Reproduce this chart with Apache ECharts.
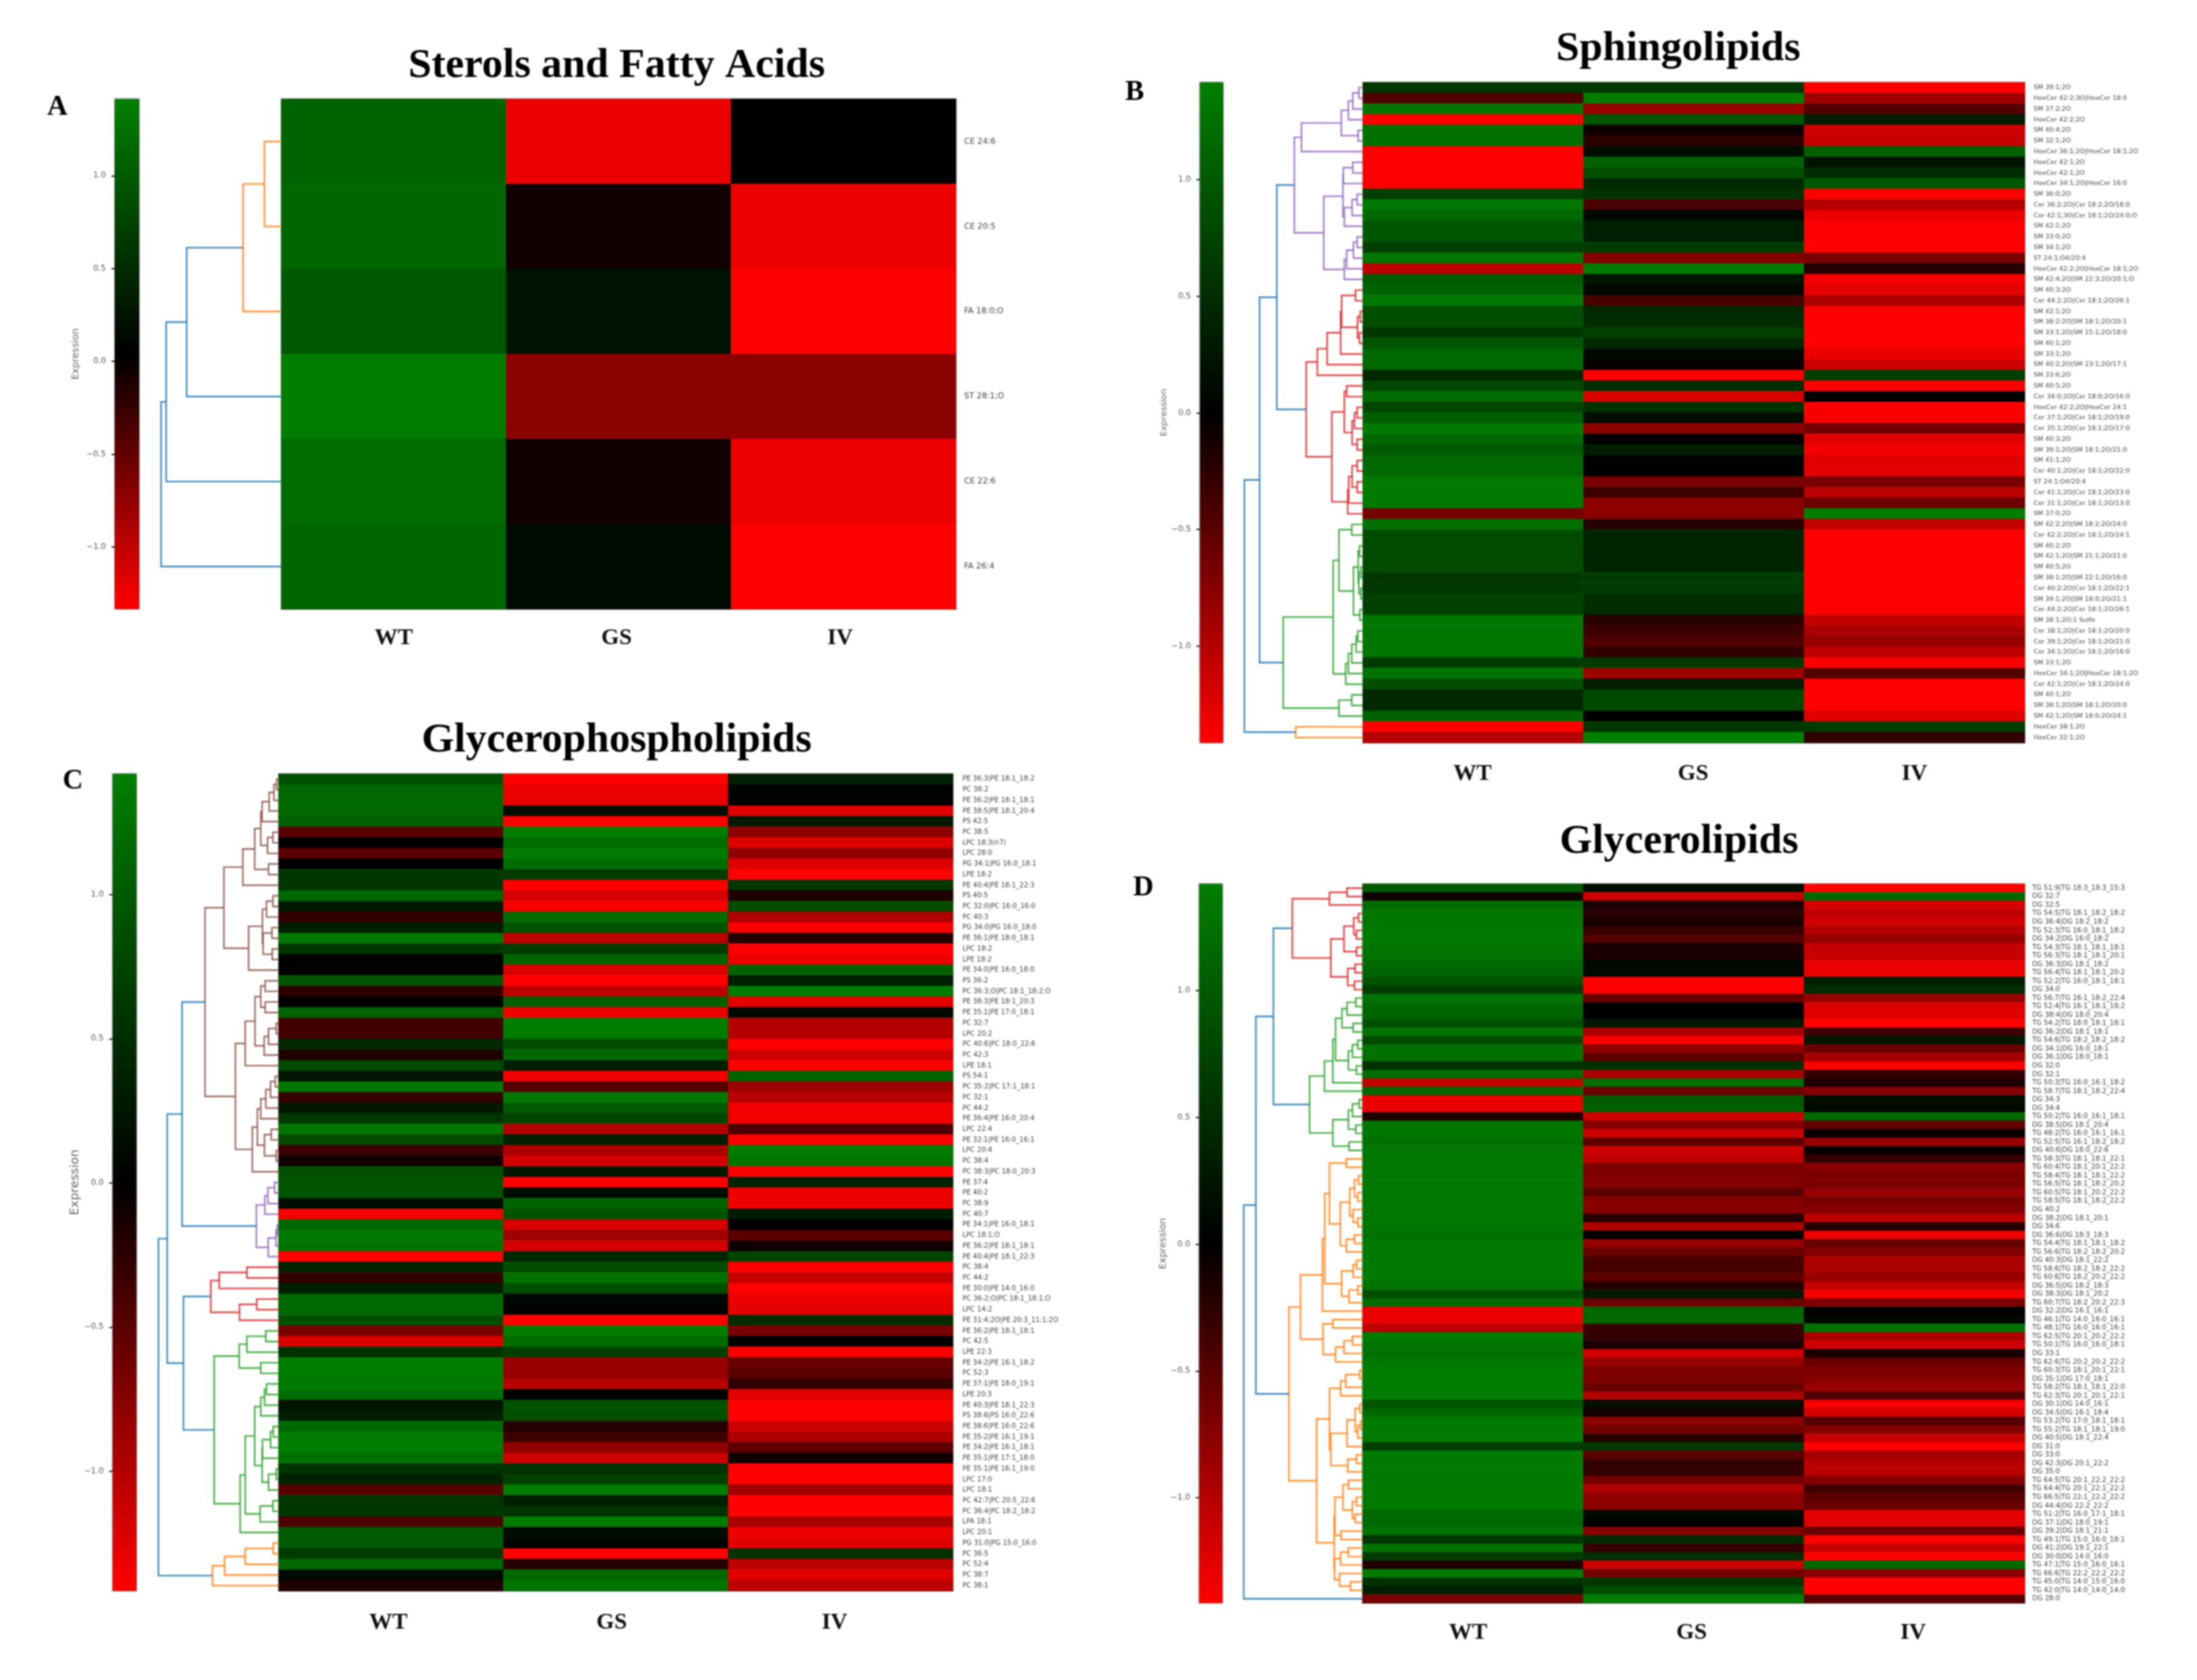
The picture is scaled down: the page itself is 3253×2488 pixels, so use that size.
<!DOCTYPE html>
<html><head><meta charset="utf-8">
<style>html,body{margin:0;padding:0;background:#fff}#c{width:3253px;height:2488px;filter:blur(0.8px)}</style>
<script src="https://cdn.jsdelivr.net/npm/echarts@6/dist/echarts.min.js"></script>
</head><body><div id="c"></div>
<script>
const samples=['WT','GS','IV'];
const barTicks=[-1,-0.5,0,0.5,1];
const titles=['Sterols and Fatty Acids','Sphingolipids','Glycerophospholipids','Glycerolipids'];
const panelLetters=['A','B','C','D'];
const scaleA=[-1.335,1.414], scaleB=[-1.414,1.417], scaleC=[-1.415,1.419], scaleD=[-1.415,1.42];

/* ---------- Panel A ---------- */
const labelsA=['CE 24:6','CE 20:5','FA 18:0;O','ST 28:1;O','CE 22:6','FA 26:4'];
const wtA=[1.1,1.15,1.0,1.38,1.2,1.15];
const gsA=[-1.23,-.06,.24,-.71,-.06,.15];
const ivA=[.04,-1.23,-1.335,-.71,-1.23,-1.335];
const treeA=[17.8,[17.05,[14,[5.65,[2.5,0,0],0,'o'],0],0],0];

/* ---------- Panel B ---------- */
const labelsB=['SM 39:1;2O','HexCer 42:2;3O|HexCer 18:0','SM 37:2;2O','HexCer 42:2;2O','SM 40:4;2O','SM 32:1;2O','HexCer 36:1;2O|HexCer 18:1;2O','HexCer 42:1;2O','HexCer 42:1;2O','HexCer 34:1;2O|HexCer 16:0','SM 36:0;2O','Cer 36:2;2O|Cer 18:2;2O/18:0','Cer 42:1;3O|Cer 18:1;2O/24:0;O','SM 42:1;2O','SM 33:0;2O','SM 34:1;2O','ST 24:1;O4/20:4','HexCer 42:2;2O|HexCer 18:1;2O','SM 42:4;2O|SM 22:3;2O/20:1;O','SM 40:3;2O','Cer 44:2;2O|Cer 18:1;2O/26:1','SM 42:1;2O','SM 38:2;2O|SM 18:1;2O/20:1','SM 33:1;2O|SM 15:1;2O/18:0','SM 40:1;2O','SM 33:1;2O','SM 40:2;2O|SM 23:1;2O/17:1','SM 33:6;2O','SM 40:5;2O','Cer 34:0;2O|Cer 18:0;2O/16:0','HexCer 42:2;2O|HexCer 24:1','Cer 37:1;2O|Cer 18:1;2O/19:0','Cer 35:1;2O|Cer 18:1;2O/17:0','SM 40:3;2O','SM 39:1;2O|SM 18:1;2O/21:0','SM 41:1;2O','Cer 40:1;2O|Cer 18:1;2O/22:0','ST 24:1;O4/20:4','Cer 41:1;2O|Cer 18:1;2O/23:0','Cer 31:1;2O|Cer 18:1;2O/13:0','SM 37:0;2O','SM 42:2;2O|SM 18:2;2O/24:0','Cer 42:2;2O|Cer 18:1;2O/24:1','SM 40:2;2O','SM 42:1;2O|SM 21:1;2O/21:0','SM 40:5;2O','SM 38:1;2O|SM 22:1;2O/16:0','Cer 40:2;2O|Cer 18:1;2O/22:1','SM 39:1;2O|SM 18:0;2O/21:1','Cer 44:2;2O|Cer 18:1;2O/26:1','SM 38:1;2O;1 Sulfo','Cer 38:1;2O|Cer 18:1;2O/20:0','Cer 39:1;2O|Cer 18:1;2O/21:0','Cer 34:1;2O|Cer 18:1;2O/16:0','SM 33:1;2O','HexCer 34:1;2O|HexCer 18:1;2O','Cer 42:1;2O|Cer 18:1;2O/24:0','SM 40:1;2O','SM 38:1;2O|SM 18:1;2O/20:0','SM 42:1;2O|SM 18:0;2O/24:1','HexCer 38:1;2O','HexCer 32:1;2O'];
const wtB=[.6,-.45,1.3,-1.4,1.25,1.25,-1.4,-1.4,-1.4,-1.4,.7,1.32,1.15,.95,.95,.7,1.3,-1.05,1,1.1,1.32,.88,.88,.6,.95,1.15,1.15,.45,.8,1.2,.78,1.05,1.35,1.15,1,1.15,1.15,1.35,1.35,1.35,-.65,1.25,.83,.83,.83,.83,.6,.6,.72,.72,1.3,1.3,1.3,1.3,.65,1.28,.88,.45,.45,1.1,-1.4,-1];
const gsB=[.6,1.38,-.85,.95,-.08,-.25,.16,1.1,.88,.45,.55,-.4,.1,.33,.33,.65,-.72,1.38,.22,.08,-.4,.45,.5,.7,.45,.1,-.05,-1.4,.5,-1.2,.55,.16,-.78,0,.33,.02,.02,-.68,-.33,-.78,-.78,-.2,.4,.4,.4,.4,.65,.65,.5,.5,-.22,-.33,-.44,-.28,.66,-.88,.33,.82,.82,.02,.6,1.4];
const ivB=[-1.4,-.88,-.47,.33,-1.15,-1.1,1.05,.22,.5,.95,-1.4,-1,-1.3,-1.4,-1.4,-1.4,-.66,-.2,-1.35,-1.27,-.95,-1.4,-1.4,-1.4,-1.4,-1.3,-1.13,.7,-1.4,0,-1.4,-1.38,-.63,-1.24,-1.35,-1.24,-1.27,-.66,-1.02,-.6,1.4,-1.08,-1.4,-1.4,-1.4,-1.4,-1.4,-1.4,-1.4,-1.4,-1.08,-.94,-.83,-1.05,-1.4,-.47,-1.4,-1.4,-1.4,-1.24,.65,-.28];
const treeB=[17.55,[15.3,[12.75,
  [10.15,[9.1,[3.2,[2.15,[1.5,[.6,0,0],0],0],[.7,0,0]],0],[5.8,[2.95,[2.9,[1.5,0,0],0],[2.75,[1.6,[.85,0,0],0],0]],[2.75,[2.4,[1.4,[.85,0,0],0],0],0]],'p'],
  [8.4,[6.75,[5.3,[3.3,[3.15,[1.1,0,0],[.8,[.4,0,0],[.5,0,0]]],0],0],0],[4.6,[2.75,[2.4,0,0],[1.6,[1.25,[.85,0,0],0],[.85,0,0]]],[2.25,[2.1,[1.6,[.85,0,0],[.85,0,0]],0],0]],'r']],
  [11.8,[4.4,[3.55,[1.65,0,0],[1.4,[.7,[.5,0,0],[.6,[.3,0,0],[.3,0,0]]],[.45,0,0]]],[2.55,[2.15,[1.65,[1,[.75,0,0],0],0],0],0]],[3.55,[1.65,0,0],0],'g']],
  [9.95,0,0,'o']];

/* ---------- Panel C ---------- */
const labelsC=['PE 36:3|PE 18:1_18:2','PC 38:2','PE 36:2|PE 18:1_18:1','PE 38:5|PE 18:1_20:4','PS 42:5','PC 38:5','LPC 18:3(n7)','LPC 28:0','PG 34:1|PG 16:0_18:1','LPE 18:2','PE 40:4|PE 18:1_22:3','PS 40:5','PC 32:0|PC 16:0_16:0','PC 40:3','PG 34:0|PG 16:0_18:0','PE 36:1|PE 18:0_18:1','LPC 18:2','LPE 18:2','PE 34:0|PE 16:0_18:0','PS 36:2','PC 36:3;O|PC 18:1_18:2;O','PE 38:3|PE 18:1_20:3','PE 35:1|PE 17:0_18:1','PC 32:7','LPC 20:2','PC 40:6|PC 18:0_22:6','PC 42:3','LPE 18:1','PS 54:1','PC 35:2|PC 17:1_18:1','PC 32:1','PC 44:2','PE 36:4|PE 16:0_20:4','LPC 22:4','PE 32:1|PE 16:0_16:1','LPC 20:4','PC 38:4','PC 38:3|PC 18:0_20:3','PE 37:4','PE 40:2','PC 38:9','PC 40:7','PE 34:1|PE 16:0_18:1','LPC 18:1;O','PE 36:2|PE 18:1_18:1','PE 40:4|PE 18:1_22:3','PC 38:4','PC 44:2','PE 30:0|PE 14:0_16:0','PC 36:2;O|PC 18:1_18:1;O','LPC 14:2','PE 31:4;2O|PE 20:3_11:1;2O','PE 36:2|PE 18:1_18:1','PC 42:5','LPE 22:3','PE 34:2|PE 16:1_18:2','PC 52:3','PE 37:1|PE 18:0_19:1','LPE 20:3','PE 40:3|PE 18:1_22:3','PS 38:6|PS 16:0_22:6','PE 38:6|PE 16:0_22:6','PE 35:2|PE 16:1_19:1','PE 34:2|PE 16:1_18:1','PE 35:1|PE 17:1_18:0','PE 35:1|PE 16:1_19:0','LPC 17:0','LPC 18:1','PC 42:7|PC 20:5_22:6','PC 36:4|PC 18:2_18:2','LPA 18:1','LPC 20:1','PG 31:0|PG 15:0_16:0','PC 36:5','PC 52:4','PC 38:7','PC 38:1'];
const wtC=[.88,1.15,1.15,1.15,1.05,-.5,0,-.5,0,.6,.6,1.15,.28,-.28,.33,1.32,.6,.04,-.02,.95,-.25,0,1.1,-.36,-.36,.45,-.16,.83,.22,1.32,-.3,.28,.6,1.32,.83,-.33,-.08,.88,.93,.93,.15,-1.35,1.15,1.35,1.28,-1.41,.42,-.28,.35,1.15,1.15,.88,-.66,-1.2,.55,1.38,1.38,1.35,1.22,.22,.33,1.15,1.38,1.38,1.25,.55,.38,-.47,.6,.6,-.42,1,1,.66,1.15,.1,-.17];
const gsC=[-1.41,-1.3,-1.3,.16,-1.41,1.38,1.2,1.38,1.2,.66,-1.41,-1.18,-1.38,1.2,.93,-1.05,.66,1.1,-1.2,-1.41,-1.05,1.05,-1.32,1.38,1.38,.83,1.15,.33,-1.35,-.47,1.32,1,.77,-1,.33,-.97,-1.18,.28,-1.41,.16,1.1,.93,-1.2,-.88,-1.18,.44,.83,1.26,.88,.08,.03,-1.41,1.38,1.2,.7,-.83,-.83,-1.02,0,.93,.88,-.2,-.33,-.8,-1.13,.55,.72,1.38,.33,.55,1.38,.13,.05,-1.41,-.2,1.15,1.3];
const ivC=[.33,.02,0,-1.25,.28,-.78,-1.22,-.8,-1.22,-1.41,.6,-.17,.83,-.97,-1.38,-.2,-1.41,-1.32,1.1,.33,1.38,-1.27,.1,-1,-1,-1.41,-1.15,-1.41,1.1,-.88,-1.02,-1.35,-1.35,-.42,-1.41,1.38,1.3,-1.41,.38,-1.32,-1.32,.3,0,-.5,-.08,.77,-1.41,-1.08,-1.41,-1.32,-1.27,.5,-.66,0,-1.38,-.58,-.5,-.28,-1.24,-1.41,-1.41,-1.13,-.97,-.52,-.08,-1.41,-1.41,-.88,-1.41,-1.41,-.94,-1.32,-1.24,.55,-1.05,-1.24,-1.05];
const treeC=[17.8,[16.5,[14.3,
  [10.9,[8.1,[5.3,[3.55,[2.65,[2.45,[1.4,[.7,[.3,0,0],0],0],0],[1.65,[.85,0,0],0]],[1.5,0,0]],0],[4.45,[2.4,[1.8,[.85,0,0],0],[2.3,[1,0,0],[.95,0,0]]],0]],
         [6.4,[4.95,[3.5,[2.65,[2,0,0],[2,0,0]],[2.15,[1.5,[.35,0,0],0],0]],0],[3.9,[3.15,[2.65,[1.9,[1.2,[.5,0,0],0],0],0],[2.1,[1.1,0,0],[.35,0,0]]],0]],'n'],
  [3.3,[2.05,[1.6,[.6,0,0],0],0],[1.55,[.4,[.2,0,0],0],0],'p']],
  [14.1,[10.05,[8.8,[4.7,0,0],0],[5.8,[3.25,0,0],0],'r'],
        [9.55,[5.85,[4.7,[1.9,0,0],0],[2.65,0,0]],[5.7,[4.95,[3.55,[2.65,[2.1,[1.8,0,0],0],0],[2.45,[2.4,[1.2,[.8,0,0],0],0],[1.5,[.35,0,0],0]]],[2.75,[.85,0,0],0]],0],'g']]],
  [9.8,[8,[4.95,[.8,0,0],0],0],0,'o']];

/* ---------- Panel D ---------- */
const labelsD=['TG 51:9|TG 18:3_18:3_15:3','DG 32:7','DG 32:5','TG 54:5|TG 18:1_18:2_18:2','DG 36:4|DG 18:2_18:2','TG 52:3|TG 16:0_18:1_18:2','DG 34:2|DG 16:0_18:2','TG 54:3|TG 18:1_18:1_18:1','TG 56:3|TG 18:1_18:1_20:1','DG 36:3|DG 18:1_18:2','TG 56:4|TG 18:1_18:1_20:2','TG 52:2|TG 16:0_18:1_18:1','DG 34:0','TG 56:7|TG 16:1_18:2_22:4','TG 52:4|TG 16:1_18:1_18:2','DG 38:4|DG 18:0_20:4','TG 54:2|TG 18:0_18:1_18:1','DG 36:2|DG 18:1_18:1','TG 54:6|TG 18:2_18:2_18:2','DG 34:1|DG 16:0_18:1','DG 36:1|DG 18:0_18:1','DG 32:0','DG 32:1','TG 50:3|TG 16:0_16:1_18:2','TG 58:7|TG 18:1_18:2_22:4','DG 34:3','DG 34:4','TG 50:2|TG 16:0_16:1_18:1','DG 38:5|DG 18:1_20:4','TG 48:2|TG 16:0_16:1_16:1','TG 52:5|TG 16:1_18:2_18:2','DG 40:6|DG 18:0_22:6','TG 58:3|TG 18:1_18:1_22:1','TG 60:4|TG 18:1_20:1_22:2','TG 58:4|TG 18:1_18:1_22:2','TG 56:5|TG 18:1_18:2_20:2','TG 60:5|TG 18:1_20:2_22:2','TG 58:5|TG 18:1_18:2_22:2','DG 40:2','DG 38:2|DG 18:1_20:1','DG 34:6','DG 36:6|DG 18:3_18:3','TG 54:4|TG 18:1_18:1_18:2','TG 56:6|TG 18:2_18:2_20:2','DG 40:3|DG 18:1_22:2','TG 58:6|TG 18:2_18:2_22:2','TG 60:6|TG 18:2_20:2_22:2','DG 36:5|DG 18:2_18:3','DG 38:3|DG 18:1_20:2','TG 60:7|TG 18:2_20:2_22:3','DG 32:2|DG 16:1_16:1','TG 46:1|TG 14:0_16:0_16:1','TG 48:1|TG 16:0_16:0_16:1','TG 62:5|TG 20:1_20:2_22:2','TG 50:1|TG 16:0_16:0_18:1','DG 33:1','TG 62:6|TG 20:2_20:2_22:2','TG 60:3|TG 18:1_20:1_22:1','DG 35:1|DG 17:0_18:1','TG 58:2|TG 18:1_18:1_22:0','TG 62:3|TG 20:1_20:1_22:1','DG 30:1|DG 14:0_16:1','DG 34:5|DG 16:1_18:4','TG 53:2|TG 17:0_18:1_18:1','TG 55:2|TG 18:1_18:1_19:0','DG 40:5|DG 18:1_22:4','DG 31:0','DG 33:0','DG 42:3|DG 20:1_22:2','DG 35:0','TG 64:5|TG 20:1_22:2_22:2','TG 64:4|TG 20:1_22:1_22:2','TG 66:5|TG 22:1_22:2_22:2','DG 44:4|DG 22:2_22:2','TG 51:2|TG 16:0_17:1_18:1','DG 37:1|DG 18:0_19:1','DG 39:2|DG 18:1_21:1','TG 49:1|TG 15:0_16:0_18:1','DG 41:2|DG 19:1_22:1','DG 30:0|DG 14:0_16:0','TG 47:1|TG 15:0_16:0_16:1','TG 66:6|TG 22:2_22:2_22:2','TG 45:0|TG 14:0_15:0_16:0','TG 42:0|TG 14:0_14:0_14:0','DG 28:0'];
const wtD=[1,-.08,1.2,1.3,1.3,1.35,1.35,1.3,1.28,1.15,1.12,.93,.68,1.27,1.15,1.12,.88,1.27,.83,1.27,1.25,.55,1.2,-1.08,1.15,-1.3,-1.3,-.17,1.3,1.3,1.25,1.32,1.32,1.32,1.32,1.32,1.32,1.32,1.32,1.32,1.3,1.25,1.35,1.35,1.35,1.35,1.35,1.28,.88,1.2,-1.3,-1.3,-1.05,1.38,1.3,1.25,1.33,1.38,1.38,1.38,1.38,.93,1.15,1.35,1.35,1.35,.68,1.35,1.35,1.35,1.35,1.36,1.36,1.36,1.15,1.15,1.28,.6,1.28,.66,-.17,1.38,.55,.33,-.66];
const gsD=[.13,-1.13,-.14,-.22,-.14,-.3,-.47,-.14,-.14,.1,.09,-1.41,-1.41,-.6,0,0,.28,-.97,-1.38,-.78,-.52,.55,-.94,1.23,-.6,1,1.05,-1.13,-.75,-1.13,-.52,-1.13,-1.05,-.68,-.72,-.72,-.5,-.75,-.75,-.2,-.97,0,-.83,-.6,-.39,-.39,-.52,-.2,.28,-.6,1.15,1.15,-.3,-.28,-.14,-1.16,-.83,-.69,-.69,-.58,-.97,.17,-.11,-.77,-.63,-.22,.6,-.5,-.28,-.28,-.63,-.97,-.8,-.77,.11,0,-.75,.5,-.3,.5,-1.13,-.63,.6,.88,1.38];
const ivD=[-1.41,1.15,-1.18,-1.05,-1.15,-1,-.83,-1.1,-1.1,-1.3,-1.3,.33,.5,-.83,-1.22,-1.24,-1.41,-.33,.28,-.6,-.91,-1.41,-.28,-.17,-.75,.17,.09,1.15,-.55,-.06,-.85,-.05,-.28,-.75,-.69,-.69,-.83,-.66,-.75,-1.05,-.2,-1.3,-.58,-.72,-.94,-.94,-.83,-1.08,-1.35,-.69,0,.09,1.27,-.94,-1.13,-.14,-.58,-.69,-.75,-.85,-.44,-1.38,-1.18,-.47,-.72,-1.1,-1.41,-.91,-1.02,-1.02,-.75,-.36,-.5,-.58,-1.27,-1.24,-.58,-1.41,-1.1,-1.41,1.15,-.77,-1.41,-1.41,-.5];
const treeD=[17.6,[15.8,[13.2,
  [10.4,[4.9,[2.3,0,0],0],[4.7,[2.75,[1.3,[.6,0,0],[.9,0,0]],[.9,0,0]],[2.2,[1.1,0,0],[1.2,0,0]]],'r'],
  [7.85,[5.65,[4.4,[4,[3.05,[2.3,[1,0,0],0],[1.4,0,0]],[2.1,[1.5,[.7,0,0],0],[.9,0,0]]],0],0],[4.4,[2.1,[1.5,[.5,0,0],0],[1,0,0]],[2,0,0]],'g']],
  [10.9,[9.2,[5.95,[5.6,[4.9,[2.4,0,0],[3.3,[1.9,[1.2,[.6,0,0],[.7,0,0]],[1.4,0,[.7,0,0]]],[2.4,[1.2,0,0],0]]],[3.1,[1.4,[.9,0,0],0],[2,[.7,0,0],0]]],0],
             [5.85,[4.4,0,0],[4,[2.75,[1.5,0,0],0],0]]],
        [6.8,[4.9,[3.25,[2.5,[.4,0,0],0],0],[4.7,[2.3,[1.1,[.4,0,0],[.7,[.3,0,0],0]],0],[2.2,[.9,0,0],0]]],
             [4.2,[4.1,[2.9,[2.1,0,0],[1.5,[.9,0,0],[1.1,0,0]]],[3.2,0,0]],[4.15,[3.25,[2.1,0,0],0],[3.4,0,[1.8,0,0]]]]],'o']],0];

const palette={t:'#1f77b4',o:'#ff7f0e',g:'#2ca02c',r:'#d62728',p:'#9467bd',n:'#8c564b'};
const colorKeys=Object.keys(palette);
const fontSerif='"Liberation Serif","Times New Roman",serif';

function linkage(tree){
  const rows=[];let next=0;
  (function walk(n,col){
    if(n===0){return{h:0,y:(next++)+.5};}
    const c=n[3]||col,l=walk(n[1],c),r=walk(n[2],c);
    rows.push([l.h,l.y,n[0],r.y,r.h,colorKeys.indexOf(c)]);
    return{h:n[0],y:(l.y+r.y)/2};
  })(tree,'t');
  return{rows,leaves:next};
}

const layout=[
 {heat:[416.5,146.5,999,755.5],bar:[170,146.5,36,755.5],scale:scaleA,labels:labelsA,cols:[wtA,gsA,ivA],tree:treeA,fs:12,lm:12,xm:26,tx:913,ty:98,lx:85,ly:159,nameGap:51,nameSize:14,shift:[0,3,5]},
 {heat:[2018,122,980,978],bar:[1776.5,122,34.5,978],scale:scaleB,labels:labelsB,cols:[wtB,gsB,ivB],tree:treeB,fs:9.5,lm:13,xm:29,tx:2485,ty:73,lx:1680,ly:137,nameGap:41,nameSize:13,shift:[1,1,0]},
 {heat:[412.6,1146,998.4,1210],bar:[166.7,1146,35.3,1210],scale:scaleC,labels:labelsC,cols:[wtC,gsC,ivC],tree:treeC,fs:10,lm:14,xm:30,tx:913,ty:1097,lx:108,ly:1157,nameGap:46,nameSize:18,shift:[4,6,9]},
 {heat:[2017.5,1309,980.5,1065],bar:[1775.4,1309,34.6,1065],scale:scaleD,labels:labelsD,cols:[wtD,gsD,ivD],tree:treeD,fs:10,lm:11,xm:27,tx:2486,ty:1247,lx:1693,ly:1315,nameGap:41,nameSize:14,shift:[7,3,2]}
];

const grid=[],xAxis=[],yAxis=[],series=[],visualMap=[],title=[];
const xLabelStyle={fontFamily:fontSerif,fontWeight:'bold',fontSize:34,color:'#111'};
layout.forEach((p,i)=>{
  const [hl,ht,hw,hh]=p.heat, n=p.labels.length, link=linkage(p.tree);
  if(link.leaves!==n||p.cols.some(c=>c.length!==n))console.error('size mismatch panel',i,link.leaves,n,p.cols.map(c=>c.length));
  // heat grid
  const g0=grid.length;
  grid.push({left:hl,top:ht,width:hw,height:hh,show:true,borderColor:'#9a9a9a',borderWidth:2,backgroundColor:'transparent'});
  const rich={};p.shift.forEach((s,k)=>{rich['s'+k]=Object.assign({padding:[0,2*s,0,0]},xLabelStyle);});
  xAxis.push({gridIndex:g0,type:'category',data:samples,axisLine:{show:true,lineStyle:{color:'#555',width:2}},
    axisTick:{alignWithLabel:true,length:10,lineStyle:{color:'#777',width:2}},
    axisLabel:Object.assign({margin:p.xm,rich,formatter:(v,k)=>'{s'+k+'|'+v+'}'},xLabelStyle),splitLine:{show:false}});
  yAxis.push({gridIndex:g0,type:'category',data:p.labels,inverse:true,position:'right',axisLine:{show:true,lineStyle:{color:'#999',width:1}},
    axisTick:{alignWithLabel:true,length:5,lineStyle:{color:'#222',width:2}},
    axisLabel:{interval:0,margin:p.lm,fontSize:p.fs,fontFamily:'"DejaVu Sans",sans-serif',color:'#444',hideOverlap:false},splitLine:{show:false}});
  const cells=[];p.cols.forEach((c,x)=>c.forEach((v,y)=>cells.push([x,y,v])));
  const hs=series.length;
  series.push({type:'heatmap',xAxisIndex:g0,yAxisIndex:g0,data:cells,silent:true,progressive:0,itemStyle:{borderWidth:0},emphasis:{disabled:true}});
  // dendrogram grid
  const g1=grid.length;
  grid.push({left:hl-200,top:ht,width:200,height:hh});
  xAxis.push({gridIndex:g1,type:'value',inverse:true,min:0,max:20,show:false});
  yAxis.push({gridIndex:g1,type:'value',inverse:true,min:0,max:n,show:false});
  series.push({type:'custom',xAxisIndex:g1,yAxisIndex:g1,data:link.rows,silent:true,clip:false,z:3,
    encode:{x:[0,2,4],y:[1,3]},
    renderItem(params,api){
      const a=api.coord([api.value(0),api.value(1)]),b=api.coord([api.value(2),api.value(1)]),
            c=api.coord([api.value(2),api.value(3)]),d=api.coord([api.value(4),api.value(3)]);
      return{type:'polyline',shape:{points:[a,b,c,d]},style:{stroke:palette[colorKeys[api.value(5)]],fill:null,lineWidth:2.4,opacity:.85}};
    }});
  // colour bar axis
  const [bl,bt,bw,bh]=p.bar, g2=grid.length, [lo,hi]=p.scale;
  grid.push({left:bl,top:bt,width:bw,height:bh,show:true,borderColor:'#8a8a8a',borderWidth:2,backgroundColor:'transparent'});
  xAxis.push({gridIndex:g2,type:'value',show:false,min:0,max:1});
  yAxis.push({gridIndex:g2,type:'value',min:lo,max:hi,name:'Expression',nameLocation:'middle',nameRotate:90,nameGap:p.nameGap,
    nameTextStyle:{fontSize:p.nameSize,color:'#666',fontFamily:'"DejaVu Sans",sans-serif'},
    axisLine:{show:false},splitLine:{show:false},
    axisTick:{show:true,length:5,customValues:barTicks,lineStyle:{color:'#222',width:2}},
    axisLabel:{margin:13,fontSize:12,color:'#555',fontFamily:'"DejaVu Sans",sans-serif',customValues:barTicks,
      formatter:v=>(v<0?'\u2212':'')+Math.abs(v).toFixed(1)}});
  visualMap.push({type:'continuous',min:lo,max:hi,seriesIndex:hs,calculable:false,realtime:false,hoverLink:false,
    left:bl,top:bt,itemWidth:bw,itemHeight:bh,padding:0,orient:'vertical',
    inRange:{color:['#ff0000','#000000','#008000']}});
  title.push({text:titles[i],left:p.tx,top:p.ty,textAlign:'center',textVerticalAlign:'middle',padding:0,
    textStyle:{fontFamily:fontSerif,fontWeight:'bold',fontSize:62,color:'#000'}});
  title.push({text:panelLetters[i],left:p.lx,top:p.ly,textAlign:'center',textVerticalAlign:'middle',padding:0,
    textStyle:{fontFamily:fontSerif,fontWeight:'bold',fontSize:42,color:'#000'}});
});

const chart=echarts.init(document.getElementById('c'),null,{renderer:'canvas'});
chart.setOption({animation:false,backgroundColor:'#fff',title,grid,xAxis,yAxis,visualMap,series,tooltip:{show:false}});
</script></body></html>
